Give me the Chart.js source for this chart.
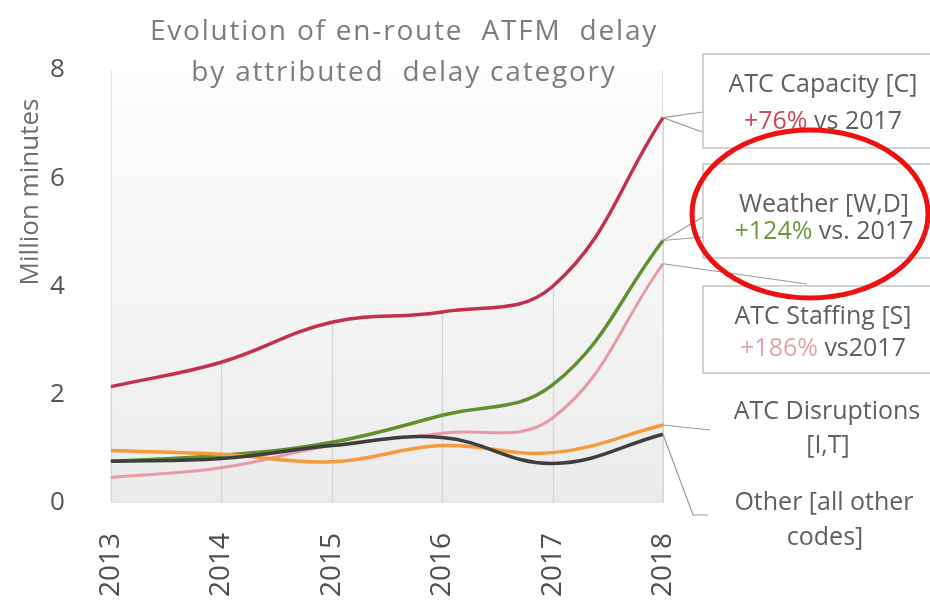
<!DOCTYPE html>
<html>
<head>
<meta charset="utf-8">
<script src="https://cdn.jsdelivr.net/npm/chart.js@4.4.1/dist/chart.umd.min.js"></script>
<style>
html,body{margin:0;padding:0;background:#fff;}
#wrap{width:930px;height:600px;position:relative;}
</style>
</head>
<body>
<div id="wrap"><canvas id="c" width="930" height="600"></canvas></div>
<script>
const years = ['2013','2014','2015','2016','2017','2018'];
const capacity = [2.15, 2.6, 3.34, 3.53, 4.0, 7.12];
const weather = [0.77, 0.88, 1.12, 1.62, 2.18, 4.85];
const staffing = [0.47, 0.65, 1.06, 1.29, 1.57, 4.42];
const disruptions = [0.97, 0.9, 0.76, 1.06, 0.93, 1.44];
const other = [0.77, 0.82, 1.06, 1.21, 0.73, 1.27];
const yTicks = [0, 2, 4, 6, 8];

const titleLines = ['Evolution of en-route  ATFM  delay', 'by attributed  delay category'];
const yTitle = 'Million minutes';
const labels = [
  {name:'ATC Capacity [C]', pct:'+76%', rest:' vs 2017', color:'#c84a64'},
  {name:'Weather [W,D]', pct:'+124%', rest:' vs. 2017', color:'#6a9a3a'},
  {name:'ATC Staffing [S]', pct:'+186%', rest:' vs2017', color:'#e8a0ac'}
];

const FONT = '"Open Sans", "DejaVu Sans", sans-serif';

const bgPlugin = {
  id:'bg',
  beforeDraw(chart){
    const {ctx, chartArea:a} = chart;
    ctx.save();
    const g = ctx.createLinearGradient(a.left, a.top, a.left, a.bottom);
    g.addColorStop(0,'#fdfdfd');
    g.addColorStop(0.55,'#f4f4f4');
    g.addColorStop(1,'#ebebeb');
    ctx.fillStyle = g;
    ctx.fillRect(a.left, a.top, a.right-a.left, a.bottom-a.top);
    ctx.strokeStyle = '#e4e4e4';
    ctx.lineWidth = 1;
    ctx.beginPath();
    ctx.moveTo(a.left+0.5, a.top); ctx.lineTo(a.left+0.5, a.bottom-0.5);
    ctx.lineTo(a.right-0.5, a.bottom-0.5); ctx.lineTo(a.right-0.5, a.top);
    ctx.stroke();
    // drop lines from max value at each category
    const xs = chart.scales.x, ys = chart.scales.y;
    ctx.strokeStyle = '#d4d4d4';
    ctx.lineWidth = 1.2;
    years.forEach((y,i)=>{
      const m = Math.max(capacity[i], weather[i], staffing[i], disruptions[i], other[i]);
      const px = Math.round(xs.getPixelForValue(i))+0.5;
      ctx.beginPath();
      ctx.moveTo(px, ys.getPixelForValue(m));
      ctx.lineTo(px, ys.getPixelForValue(0));
      ctx.stroke();
    });
    ctx.restore();
  }
};

const annoPlugin = {
  id:'anno',
  afterDraw(chart){
    const {ctx} = chart;
    const xs = chart.scales.x, ys = chart.scales.y;
    const last = years.length-1;
    const ex = xs.getPixelForValue(last);
    const pC = ys.getPixelForValue(capacity[last]);
    const pW = ys.getPixelForValue(weather[last]);
    const pS = ys.getPixelForValue(staffing[last]);
    const pD = ys.getPixelForValue(disruptions[last]);
    const pO = ys.getPixelForValue(other[last]);
    ctx.save();
    // title
    ctx.fillStyle = '#7d7d7d';
    ctx.font = '28px ' + FONT;
    ctx.letterSpacing = '1.8px';
    ctx.textAlign = 'center';
    ctx.textBaseline = 'middle';
    ctx.fillText(titleLines[0], 404, 32);
    ctx.fillText(titleLines[1], 404, 73);
    ctx.letterSpacing = '0px';

    // y axis title
    ctx.save();
    ctx.translate(31, 192);
    ctx.rotate(-Math.PI/2);
    ctx.font = '26px ' + FONT;
    ctx.fillStyle = '#6e6e6e';
    ctx.fillText(yTitle, 0, 0);
    ctx.restore();

    // leader lines
    ctx.strokeStyle = '#9a9a9a';
    ctx.lineWidth = 1.2;
    const seg = (pts)=>{ctx.beginPath(); ctx.moveTo(pts[0][0],pts[0][1]); for(let k=1;k<pts.length;k++) ctx.lineTo(pts[k][0],pts[k][1]); ctx.stroke();};
    seg([[ex,pC],[703,112]]);
    seg([[ex,pC],[705,133]]);
    seg([[ex,pW],[703,217]]);
    seg([[ex,pW],[703,237]]);
    seg([[ex,pS],[807,284]]);
    seg([[ex,pD],[710,430]]);
    seg([[ex,pO],[693,515],[708,515]]);

    // boxes
    ctx.fillStyle = '#ffffff';
    ctx.strokeStyle = '#c4c4c4';
    ctx.lineWidth = 1.5;
    const boxes = [[703,54,240,94],[703,164,240,94],[703,286,240,87]];
    boxes.forEach(b=>{ctx.fillRect(b[0],b[1],b[2],b[3]); ctx.strokeRect(b[0],b[1],b[2],b[3]);});

    ctx.font = '25px ' + FONT;
    const centers = [[823,85,122],[824,205,232],[823,317,349]];
    labels.forEach((l,i)=>{
      const c = centers[i];
      ctx.textAlign = 'center';
      ctx.fillStyle = '#606060';
      ctx.fillText(l.name, c[0], c[1]);
      const w1 = ctx.measureText(l.pct).width, w2 = ctx.measureText(l.rest).width;
      const x0 = c[0] - (w1+w2)/2;
      ctx.textAlign = 'left';
      ctx.fillStyle = l.color;
      ctx.fillText(l.pct, x0, c[2]);
      ctx.fillStyle = '#606060';
      ctx.fillText(l.rest, x0+w1, c[2]);
    });
    ctx.textAlign = 'center';
    ctx.fillStyle = '#606060';
    ctx.fillText('ATC Disruptions', 827, 412);
    ctx.fillText('[I,T]', 828, 446);
    ctx.fillText('Other [all other', 824, 503);
    ctx.fillText('codes]', 825, 538);

    // red ellipse
    ctx.strokeStyle = '#ee1111';
    ctx.lineWidth = 5;
    ctx.beginPath();
    ctx.ellipse(810, 214, 118, 84, 0, 0, Math.PI*2);
    ctx.stroke();
    ctx.restore();
  }
};

const mk = (label, data, color, w) => ({
  label, data, borderColor: color, backgroundColor: color,
  borderWidth: w, pointRadius: 0, tension: 0.4, fill:false
});

new Chart(document.getElementById('c'), {
  type:'line',
  data:{
    labels: years,
    datasets:[
      mk('Other [all other codes]', other, '#3e3e3e', 3.5),
      mk('ATC Disruptions [I,T]', disruptions, '#f39a3c', 3.5),
      mk('ATC Staffing [S]', staffing, '#e79aa6', 3),
      mk('Weather [W,D]', weather, '#5f8f2f', 3.5),
      mk('ATC Capacity [C]', capacity, '#c2304d', 3.5)
    ]
  },
  options:{
    responsive:false,
    animation:false,
    layout:{padding:{left:12, right:267, top:70, bottom:-19}},
    plugins:{legend:{display:false}, tooltip:{enabled:false}},
    scales:{
      x:{
        offset:false,
        grid:{display:false},
        border:{display:false},
        ticks:{color:'#505050', font:{size:28, family:FONT}, minRotation:90, maxRotation:90, padding:22}
      },
      y:{
        min:0, max:8,
        afterBuildTicks(s){ s.ticks = yTicks.map(v=>({value:v})); },
        grid:{display:false},
        border:{display:false},
        ticks:{color:'#555555', font:{size:26, family:FONT}, padding:38}
      }
    }
  },
  plugins:[bgPlugin, annoPlugin]
});
</script>
</body>
</html>
